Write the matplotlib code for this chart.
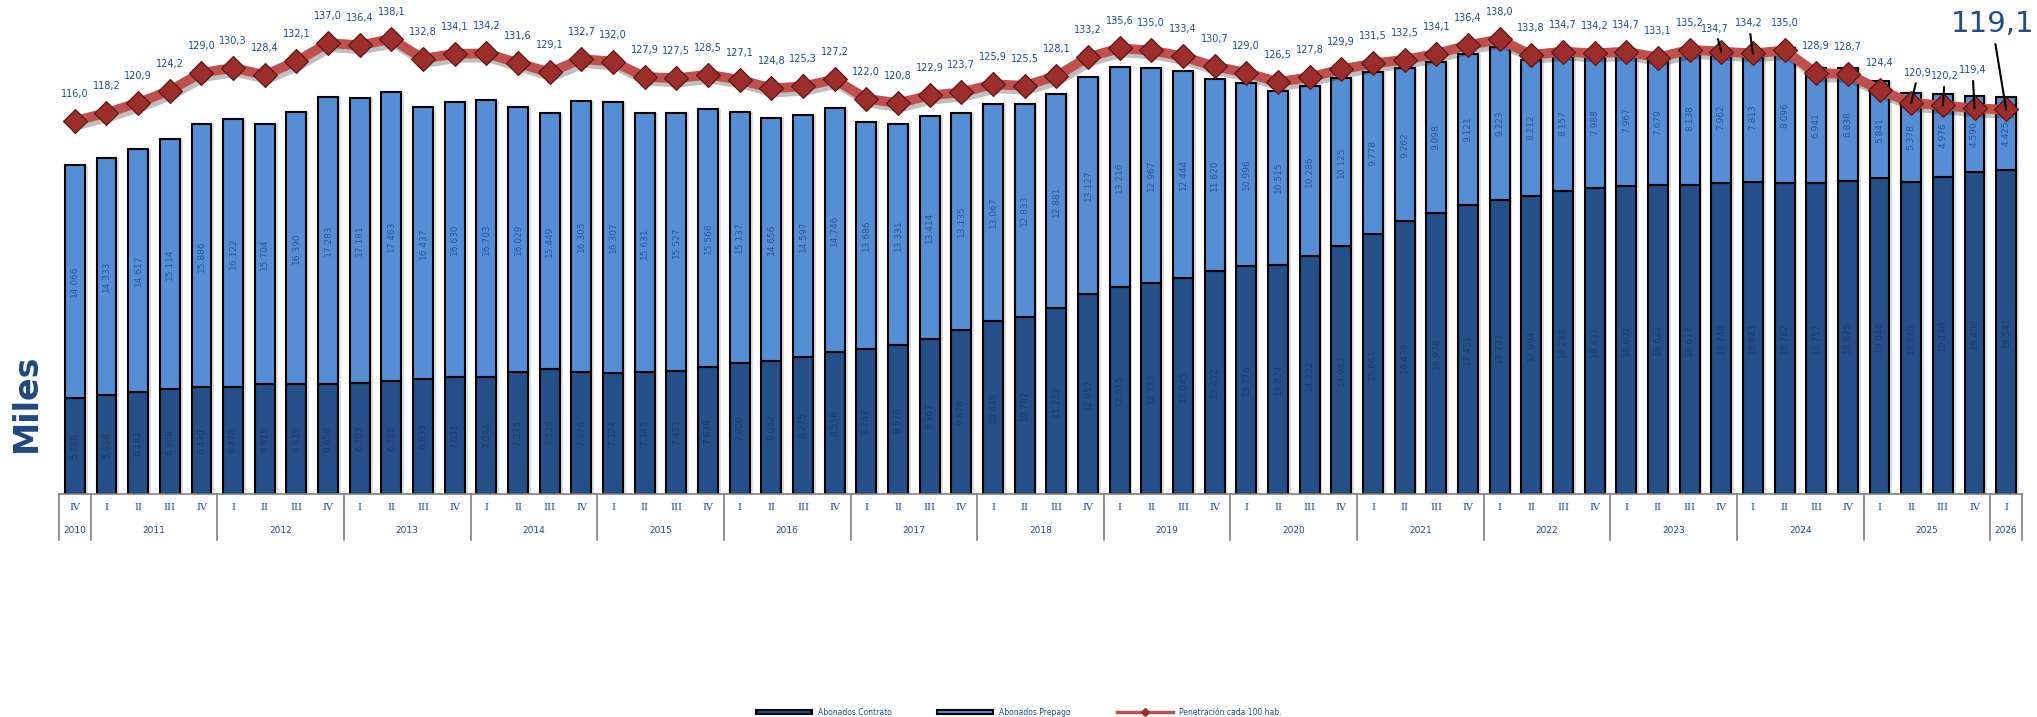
import numpy as np
import matplotlib
matplotlib.use("Agg")
import matplotlib.pyplot as plt
import matplotlib.patheffects as pe
from matplotlib.patches import Patch
from matplotlib.lines import Line2D
from matplotlib.transforms import blended_transform_factory

# trimestres 2010 IV .. 2026 I
trimestres = ['IV'] + ['I', 'II', 'III', 'IV'] * 15 + ['I']
anios = [str(a) for a in range(2010, 2027)]
trim_por_anio = [1] + [4] * 15 + [1]

# miles de abonados
contrato = [5.786,
            5.958, 6.182, 6.308, 6.430,
            6.470, 6.615, 6.635, 6.658,
            6.707, 6.788, 6.933, 7.031,
            7.044, 7.335, 7.530, 7.376,
            7.324, 7.342, 7.433, 7.638,
            7.900, 8.042, 8.275, 8.556,
            8.747, 8.976, 9.361, 9.878,
            10.449, 10.702, 11.232, 12.052,
            12.515, 12.733, 13.045, 13.432,
            13.776, 13.824, 14.332, 14.943,
            15.661, 16.439, 16.976, 17.451,
            17.731, 17.994, 18.288, 18.431,
            18.602, 18.622, 18.617, 18.748,
            18.843, 18.782, 18.757, 18.875,
            19.048, 18.840, 19.140, 19.408,
            19.541]
prepago = [14.066,
           14.333, 14.617, 15.114, 15.886,
           16.122, 15.704, 16.390, 17.283,
           17.181, 17.463, 16.437, 16.630,
           16.703, 16.029, 15.449, 16.305,
           16.307, 15.631, 15.527, 15.568,
           15.137, 14.656, 14.597, 14.746,
           13.686, 13.331, 13.414, 13.135,
           13.067, 12.833, 12.881, 13.127,
           13.216, 12.967, 12.444, 11.620,
           10.996, 10.515, 10.286, 10.125,
           9.778, 9.262, 9.098, 9.121,
           9.223, 8.212, 8.157, 7.988,
           7.967, 7.679, 8.138, 7.962,
           7.813, 8.096, 6.941, 6.838,
           5.841, 5.378, 4.976, 4.590,
           4.425]
# penetracion cada 100 hab.
penetracion = [116.0,
               118.2, 120.9, 124.2, 129.0,
               130.3, 128.4, 132.1, 137.0,
               136.4, 138.1, 132.8, 134.1,
               134.2, 131.6, 129.1, 132.7,
               132.0, 127.9, 127.5, 128.5,
               127.1, 124.8, 125.3, 127.2,
               122.0, 120.8, 122.9, 123.7,
               125.9, 125.5, 128.1, 133.2,
               135.6, 135.0, 133.4, 130.7,
               129.0, 126.5, 127.8, 129.9,
               131.5, 132.5, 134.1, 136.4,
               138.0, 133.8, 134.7, 134.2,
               134.7, 133.1, 135.2, 134.7,
               134.2, 135.0, 128.9, 128.7,
               124.4, 120.9, 120.2, 119.4,
               119.1]

C_CONTRATO = '#254f89'
C_PREPAGO = '#558ed5'
C_TEXTO = '#1f4e8c'
C_LINEA = '#c0504d'
C_MARCA = '#9b2d2a'


def fmt_miles(v):
    return f"{v:.3f}"


def fmt_pen(v):
    return f"{v:.1f}".replace('.', ',')


x = np.arange(len(trimestres))
contrato = np.array(contrato)
prepago = np.array(prepago)

fig = plt.figure(figsize=(20.37, 7.17), dpi=100)
ax = fig.add_axes([59 / 2037, 1 - 494 / 717, 1963 / 2037, 494 / 717])
ax.set_xlim(-0.5, len(x) - 0.5)
ax.set_ylim(0, 29.8)

w = 0.63
# sombra entre barras
ax.bar(x + 0.09, contrato + prepago, w, color='#cfcfcf', zorder=1, alpha=0.7)
ax.bar(x, contrato, w, color=C_CONTRATO, edgecolor='black', lw=1.5, zorder=2)
ax.bar(x, prepago, w, bottom=contrato, color=C_PREPAGO, edgecolor='black', lw=1.5, zorder=2)

for i in x:
    ax.text(i, contrato[i] / 2, fmt_miles(contrato[i]), rotation=90, ha='center', va='center',
            fontsize=6.5, color='#1c3c68', zorder=3)
    ax.text(i, contrato[i] + prepago[i] / 2, fmt_miles(prepago[i]), rotation=90, ha='center',
            va='center', fontsize=6.5, color='#2a5595', zorder=3)

for s in ax.spines.values():
    s.set_visible(False)
ax.set_xticks([])
ax.set_yticks([])

# eje de categorias (trimestre / anio)
tr = blended_transform_factory(ax.transData, ax.transAxes)
ax.plot([-0.5, len(x) - 0.5], [0, 0], color='#808080', lw=1.2, transform=tr, clip_on=False)
for i, q in enumerate(trimestres):
    ax.text(i, -0.028, q, ha='center', va='center', fontsize=7, color=C_TEXTO,
            family='DejaVu Serif', transform=tr)
pos = -0.5
for a, n in zip(anios, trim_por_anio):
    ax.plot([pos, pos], [0, -0.093], color='#808080', lw=1.2, transform=tr, clip_on=False)
    ax.text(pos + n / 2, -0.073, a, ha='center', va='center', fontsize=6.5, color=C_TEXTO,
            transform=tr)
    pos += n
ax.plot([pos, pos], [0, -0.093], color='#808080', lw=1.2, transform=tr, clip_on=False)

# penetracion
ax2 = ax.twinx()
ax2.set_ylim(15.5, 148.6)
ax2.set_xlim(ax.get_xlim())
ax2.axis('off')
ax2.plot(x, penetracion, color=C_LINEA, lw=7, solid_joinstyle='round', zorder=4,
         path_effects=[pe.SimpleLineShadow(offset=(2, -3), alpha=0.25), pe.Normal()])
ax2.plot(x, penetracion, ls='none', marker='D', markersize=12, markerfacecolor=C_MARCA,
         markeredgecolor='#5a1010', markeredgewidth=0.8, zorder=5)

# etiquetas movidas con linea guia (desplazamiento en pixeles)
guias = {52: (-6, 23), 53: (-4, 30), 58: (7, 30), 59: (2, 29), 60: (-2, 38), 61: (-14, 85)}
for i, v in enumerate(penetracion):
    if i in guias:
        dx, dy = guias[i]
        big = i == len(penetracion) - 1
        ax2.annotate(fmt_pen(v), (i, v), xytext=(dx, dy), textcoords='offset pixels',
                     ha='center', va='center', fontsize=21 if big else 7, color=C_TEXTO,
                     zorder=6, annotation_clip=False,
                     arrowprops=dict(arrowstyle='-', color='black', lw=1.5,
                                     shrinkA=2, shrinkB=0))
    else:
        ax2.annotate(fmt_pen(v), (i, v), xytext=(0, 27), textcoords='offset pixels',
                     ha='center', va='center', fontsize=7, color=C_TEXTO, zorder=6)

fig.text(26 / 2037, 1 - 403 / 717, 'Miles', rotation=90, ha='center', va='center',
         fontsize=24, fontweight='bold', color='#1f497d')

handles = [Patch(facecolor=C_CONTRATO, edgecolor='black', lw=1.5),
           Patch(facecolor=C_PREPAGO, edgecolor='black', lw=1.5),
           Line2D([], [], color=C_LINEA, lw=2.5, marker='D', markersize=4,
                  markerfacecolor=C_MARCA, markeredgecolor=C_MARCA)]
fig.legend(handles, ['Abonados Contrato', 'Abonados Prepago', 'Penetración cada 100 hab.'],
           loc='lower center', bbox_to_anchor=(0.5, -0.004), ncol=3, frameon=False,
           fontsize=5.5, labelcolor=C_TEXTO, handlelength=7.3, handleheight=0.5,
           columnspacing=6, borderaxespad=0)

fig.savefig('out.png', dpi=100)
